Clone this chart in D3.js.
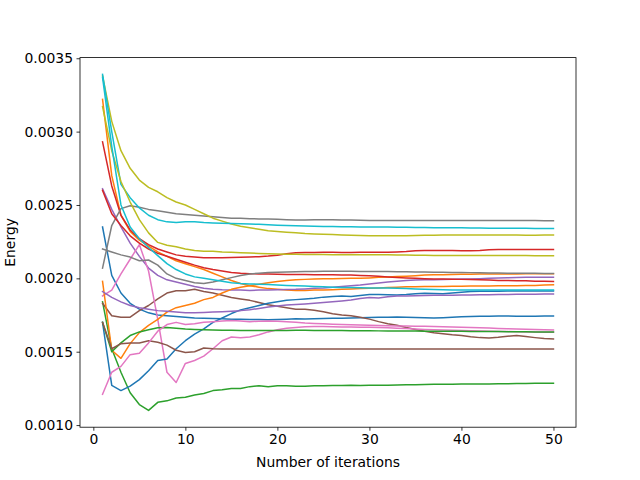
<!DOCTYPE html>
<html>
<head>
<meta charset="utf-8">
<script src="https://cdn.jsdelivr.net/npm/d3@7"></script>
<style>
  body { margin: 0; background: #fff; }
  text { font-family: "DejaVu Sans", sans-serif; }
</style>
</head>
<body>
<div id="chart"></div>
<script>
// energy per iteration, in units of 1e-3
var iterations = d3.range(1, 51);

var blueA = [2.35, 2.02, 1.90, 1.83, 1.79, 1.765, 1.75, 1.745, 1.74, 1.735,
  1.73, 1.728, 1.727, 1.725, 1.722, 1.722, 1.72, 1.72, 1.718, 1.72,
  1.722, 1.725, 1.723, 1.725, 1.727, 1.728, 1.728, 1.73, 1.732, 1.733,
  1.735, 1.735, 1.736, 1.735, 1.733, 1.732, 1.73, 1.732, 1.735, 1.738,
  1.74, 1.742, 1.742, 1.743, 1.743, 1.742, 1.742, 1.742, 1.743, 1.743];
var orangeA = [3.22, 2.70, 2.43, 2.32, 2.26, 2.22, 2.18, 2.15, 2.12, 2.10,
  2.08, 2.06, 2.035, 2.01, 1.985, 1.965, 1.95, 1.94, 1.93, 1.925,
  1.92, 1.918, 1.918, 1.92, 1.92, 1.922, 1.925, 1.928, 1.93, 1.932,
  1.935, 1.938, 1.94, 1.942, 1.943, 1.944, 1.945, 1.945, 1.946, 1.946,
  1.947, 1.948, 1.948, 1.949, 1.95, 1.95, 1.951, 1.952, 1.954, 1.956];
var greenA = [1.84, 1.52, 1.36, 1.22, 1.14, 1.10, 1.155, 1.165, 1.185, 1.19,
  1.205, 1.215, 1.235, 1.24, 1.25, 1.25, 1.262, 1.268, 1.262, 1.268,
  1.268, 1.264, 1.265, 1.268, 1.268, 1.27, 1.27, 1.272, 1.27, 1.272,
  1.272, 1.272, 1.273, 1.274, 1.275, 1.276, 1.278, 1.278, 1.279, 1.28,
  1.28, 1.28, 1.28, 1.281, 1.282, 1.283, 1.284, 1.285, 1.285, 1.285];
var redA = [2.93, 2.63, 2.43, 2.33, 2.27, 2.23, 2.20, 2.18, 2.16, 2.15,
  2.145, 2.14, 2.14, 2.14, 2.142, 2.143, 2.145, 2.148, 2.152, 2.158,
  2.168, 2.175, 2.177, 2.177, 2.178, 2.178, 2.177, 2.177, 2.178, 2.178,
  2.178, 2.178, 2.18, 2.183, 2.188, 2.19, 2.19, 2.19, 2.19, 2.188,
  2.188, 2.19, 2.195, 2.197, 2.197, 2.197, 2.197, 2.197, 2.197, 2.197];
var purpleA = [2.61, 2.47, 2.35, 2.24, 2.15, 2.07, 2.02, 1.99, 1.975, 1.96,
  1.945, 1.932, 1.926, 1.922, 1.92, 1.92, 1.918, 1.92, 1.92, 1.922,
  1.924, 1.925, 1.928, 1.932, 1.935, 1.94, 1.945, 1.95, 1.955, 1.962,
  1.968, 1.975, 1.98, 1.985, 1.988, 1.99, 1.99, 1.992, 1.994, 1.995,
  1.996, 1.998, 2.0, 2.002, 2.004, 2.006, 2.008, 2.008, 2.008, 2.008];
var brownA = [1.83, 1.745, 1.735, 1.735, 1.78, 1.815, 1.86, 1.90, 1.915, 1.915,
  1.925, 1.91, 1.90, 1.885, 1.87, 1.86, 1.85, 1.835, 1.82, 1.81,
  1.80, 1.79, 1.79, 1.782, 1.772, 1.758, 1.75, 1.745, 1.735, 1.722,
  1.705, 1.69, 1.68, 1.665, 1.652, 1.64, 1.63, 1.622, 1.615, 1.61,
  1.602, 1.596, 1.594, 1.598, 1.605, 1.61, 1.603, 1.596, 1.59, 1.587];
var pinkB = [1.88, 1.92, 2.03, 2.13, 2.23, 2.05, 1.72, 1.36, 1.29, 1.42,
  1.44, 1.47, 1.52, 1.575, 1.60, 1.595, 1.60, 1.615, 1.635, 1.65,
  1.66, 1.665, 1.67, 1.672, 1.672, 1.67, 1.668, 1.668, 1.667, 1.666,
  1.665, 1.663, 1.66, 1.658, 1.655, 1.652, 1.65, 1.648, 1.646, 1.645,
  1.643, 1.642, 1.64, 1.638, 1.637, 1.636, 1.635, 1.634, 1.633, 1.632];
var grayA = [2.07, 2.36, 2.475, 2.495, 2.485, 2.47, 2.46, 2.45, 2.44, 2.435,
  2.43, 2.425, 2.42, 2.415, 2.41, 2.41, 2.407, 2.405, 2.404, 2.402,
  2.40, 2.398, 2.398, 2.40, 2.40, 2.40, 2.398, 2.397, 2.396, 2.395,
  2.395, 2.395, 2.395, 2.394, 2.394, 2.394, 2.394, 2.394, 2.394, 2.394,
  2.394, 2.394, 2.395, 2.395, 2.395, 2.395, 2.394, 2.394, 2.393, 2.393];
var oliveA = [3.38, 3.07, 2.87, 2.75, 2.67, 2.62, 2.59, 2.55, 2.52, 2.50,
  2.47, 2.44, 2.41, 2.39, 2.37, 2.355, 2.345, 2.335, 2.325, 2.32,
  2.315, 2.31, 2.305, 2.302, 2.30, 2.298, 2.296, 2.294, 2.292, 2.29,
  2.29, 2.29, 2.29, 2.29, 2.292, 2.294, 2.294, 2.295, 2.296, 2.296,
  2.296, 2.296, 2.296, 2.296, 2.296, 2.295, 2.294, 2.294, 2.295, 2.295];
var cyanA = [3.39, 3.00, 2.64, 2.55, 2.48, 2.43, 2.40, 2.385, 2.38, 2.385,
  2.385, 2.38, 2.378, 2.376, 2.374, 2.372, 2.37, 2.368, 2.365, 2.362,
  2.36, 2.358, 2.356, 2.355, 2.354, 2.353, 2.352, 2.351, 2.35, 2.35,
  2.35, 2.35, 2.349, 2.348, 2.347, 2.346, 2.345, 2.345, 2.344, 2.344,
  2.343, 2.343, 2.342, 2.342, 2.341, 2.341, 2.341, 2.34, 2.34, 2.34];

var blueB = [1.70, 1.27, 1.235, 1.265, 1.31, 1.37, 1.44, 1.45, 1.52, 1.575,
  1.62, 1.655, 1.70, 1.73, 1.76, 1.785, 1.80, 1.815, 1.83, 1.84,
  1.85, 1.855, 1.86, 1.865, 1.872, 1.876, 1.88, 1.877, 1.883, 1.89,
  1.89, 1.888, 1.887, 1.89, 1.895, 1.898, 1.896, 1.895, 1.90, 1.905,
  1.91, 1.912, 1.912, 1.912, 1.913, 1.913, 1.913, 1.913, 1.913, 1.913];
var orangeB = [1.98, 1.51, 1.455, 1.555, 1.63, 1.68, 1.72, 1.77, 1.80, 1.815,
  1.83, 1.855, 1.87, 1.90, 1.925, 1.94, 1.95, 1.96, 1.97, 1.978,
  1.985, 1.99, 1.993, 1.996, 1.998, 1.998, 1.999, 2.0, 2.0, 2.003,
  2.007, 2.01, 2.012, 2.015, 2.018, 2.022, 2.025, 2.025, 2.026, 2.028,
  2.028, 2.029, 2.029, 2.03, 2.03, 2.03, 2.031, 2.031, 2.031, 2.031];
var greenB = [1.70, 1.50, 1.56, 1.61, 1.635, 1.65, 1.663, 1.665, 1.66, 1.655,
  1.652, 1.65, 1.648, 1.647, 1.646, 1.645, 1.645, 1.644, 1.644, 1.645,
  1.645, 1.646, 1.646, 1.645, 1.645, 1.644, 1.644, 1.643, 1.643, 1.643,
  1.642, 1.642, 1.642, 1.641, 1.641, 1.64, 1.64, 1.64, 1.639, 1.639,
  1.638, 1.638, 1.637, 1.637, 1.636, 1.636, 1.636, 1.635, 1.635, 1.635];
var redB = [2.60, 2.44, 2.36, 2.29, 2.24, 2.20, 2.17, 2.15, 2.13, 2.11,
  2.09, 2.072, 2.06, 2.05, 2.04, 2.035, 2.032, 2.03, 2.03, 2.028,
  2.027, 2.027, 2.026, 2.025, 2.025, 2.024, 2.023, 2.022, 2.02, 2.018,
  2.014, 2.01, 2.006, 2.003, 2.0, 1.998, 1.996, 1.995, 1.994, 1.993,
  1.992, 1.99, 1.988, 1.986, 1.985, 1.984, 1.983, 1.981, 1.98, 1.979];
var purpleB = [1.91, 1.87, 1.84, 1.815, 1.80, 1.79, 1.78, 1.775, 1.77, 1.765,
  1.765, 1.768, 1.77, 1.773, 1.776, 1.78, 1.786, 1.795, 1.805, 1.812,
  1.818, 1.822, 1.826, 1.83, 1.835, 1.84, 1.846, 1.852, 1.862, 1.87,
  1.866, 1.874, 1.879, 1.88, 1.882, 1.883, 1.884, 1.885, 1.885, 1.886,
  1.887, 1.888, 1.889, 1.89, 1.89, 1.891, 1.892, 1.892, 1.893, 1.893];
var brownB = [1.70, 1.52, 1.555, 1.56, 1.56, 1.575, 1.565, 1.545, 1.51, 1.495,
  1.50, 1.525, 1.52, 1.518, 1.518, 1.518, 1.518, 1.518, 1.518, 1.518,
  1.518, 1.518, 1.518, 1.518, 1.518, 1.518, 1.518, 1.518, 1.518, 1.518,
  1.518, 1.518, 1.518, 1.518, 1.518, 1.518, 1.518, 1.518, 1.518, 1.518,
  1.518, 1.518, 1.518, 1.518, 1.518, 1.518, 1.518, 1.518, 1.518, 1.518];
var pinkA = [1.21, 1.36, 1.40, 1.48, 1.49, 1.56, 1.64, 1.685, 1.70, 1.685,
  1.69, 1.70, 1.705, 1.71, 1.712, 1.71, 1.705, 1.708, 1.71, 1.708,
  1.705, 1.70, 1.695, 1.692, 1.69, 1.688, 1.686, 1.684, 1.682, 1.68,
  1.678, 1.677, 1.676, 1.675, 1.674, 1.673, 1.672, 1.67, 1.668, 1.666,
  1.665, 1.663, 1.661, 1.659, 1.657, 1.655, 1.653, 1.651, 1.65, 1.648];
var grayB = [2.20, 2.18, 2.16, 2.145, 2.12, 2.125, 2.09, 2.03, 2.00, 1.985,
  1.97, 1.965, 1.975, 1.99, 2.005, 2.02, 2.03, 2.035, 2.04, 2.042,
  2.044, 2.045, 2.046, 2.047, 2.048, 2.048, 2.048, 2.048, 2.047, 2.047,
  2.046, 2.046, 2.045, 2.045, 2.044, 2.043, 2.042, 2.041, 2.04, 2.04,
  2.039, 2.038, 2.037, 2.036, 2.035, 2.035, 2.034, 2.034, 2.033, 2.033];
var oliveB = [3.17, 2.87, 2.66, 2.52, 2.40, 2.31, 2.245, 2.225, 2.215, 2.20,
  2.19, 2.185, 2.185, 2.18, 2.178, 2.175, 2.172, 2.17, 2.168, 2.166,
  2.165, 2.164, 2.163, 2.162, 2.162, 2.161, 2.161, 2.16, 2.16, 2.16,
  2.16, 2.16, 2.159, 2.159, 2.158, 2.157, 2.156, 2.156, 2.155, 2.155,
  2.155, 2.155, 2.155, 2.155, 2.155, 2.155, 2.155, 2.154, 2.154, 2.154];
var cyanB = [3.37, 2.90, 2.50, 2.35, 2.27, 2.21, 2.155, 2.10, 2.06, 2.03,
  2.01, 2.0, 1.99, 1.98, 1.97, 1.965, 1.962, 1.96, 1.958, 1.955,
  1.952, 1.95, 1.948, 1.945, 1.942, 1.94, 1.938, 1.937, 1.936, 1.935,
  1.935, 1.934, 1.932, 1.93, 1.928, 1.926, 1.924, 1.922, 1.921, 1.92,
  1.92, 1.92, 1.92, 1.92, 1.92, 1.92, 1.92, 1.92, 1.92, 1.92];

var xTicks = [0, 10, 20, 30, 40, 50];
var yTicks = [0.0010, 0.0015, 0.0020, 0.0025, 0.0030, 0.0035];

// two passes through the default matplotlib colour cycle
var runs = [blueA, orangeA, greenA, redA, purpleA, brownA, pinkB, grayA, oliveA, cyanA,
  blueB, orangeB, greenB, redB, purpleB, brownB, pinkA, grayB, oliveB, cyanB];
var palette = ["#1f77b4", "#ff7f0e", "#2ca02c", "#d62728", "#9467bd",
  "#8c564b", "#e377c2", "#7f7f7f", "#bcbd22", "#17becf"];

var svgWidth = 640;
var svgHeight = 480;
var margin = { top: 57.6, right: 64, bottom: 52.8, left: 80 };
var width = svgWidth - margin.left - margin.right;
var height = svgHeight - margin.top - margin.bottom;

var svg = d3.select("#chart")
  .append("svg")
  .attr("width", svgWidth)
  .attr("height", svgHeight)
  .style("background", "#fff");

var chartGroup = svg.append("g")
  .attr("transform", `translate(${margin.left}, ${margin.top})`);

// energies in real units
var series = runs.map(function(run) {
  return run.map(function(v, i) { return { it: iterations[i], e: v * 1e-3 }; });
});

var allE = [].concat.apply([], series).map(d => d.e);
var xPad = (d3.max(iterations) - d3.min(iterations)) * 0.05;
var yPad = (d3.max(allE) - d3.min(allE)) * 0.05;

var xScale = d3.scaleLinear()
  .domain([d3.min(iterations) - xPad, d3.max(iterations) + xPad])
  .range([0, width]);

var yScale = d3.scaleLinear()
  .domain([d3.min(allE) - yPad, d3.max(allE) + yPad])
  .range([height, 0]);

var xAxis = d3.axisBottom(xScale)
  .tickValues(xTicks)
  .tickSize(3.5)
  .tickPadding(3.5)
  .tickSizeOuter(0);

var yAxis = d3.axisLeft(yScale)
  .tickValues(yTicks)
  .tickFormat(d3.format(".4f"))
  .tickSize(3.5)
  .tickPadding(3.5)
  .tickSizeOuter(0);

var line = d3.line()
  .x(d => xScale(d.it))
  .y(d => yScale(d.e));

chartGroup.selectAll(".run")
  .data(series)
  .enter()
  .append("path")
  .attr("class", "run")
  .attr("fill", "none")
  .attr("stroke", (d, i) => palette[i % palette.length])
  .attr("stroke-width", 1.5)
  .attr("stroke-linejoin", "round")
  .attr("stroke-linecap", "square")
  .attr("d", line);

var xg = chartGroup.append("g")
  .attr("transform", `translate(0, ${height})`)
  .call(xAxis);

var yg = chartGroup.append("g")
  .call(yAxis);

[xg, yg].forEach(function(g) {
  g.select(".domain").remove();
  g.selectAll(".tick line").attr("stroke", "#000").attr("stroke-width", 0.8);
  g.selectAll(".tick text")
    .attr("fill", "#000")
    .style("font-family", "'DejaVu Sans', sans-serif")
    .style("font-size", "13.9px");
});

// frame
chartGroup.append("rect")
  .attr("width", width)
  .attr("height", height)
  .attr("fill", "none")
  .attr("stroke", "#000")
  .attr("stroke-width", 0.8);

// axis labels
svg.append("text")
  .attr("x", margin.left + width / 2)
  .attr("y", 467)
  .attr("text-anchor", "middle")
  .style("font-size", "13.9px")
  .text("Number of iterations");

svg.append("text")
  .attr("transform", `translate(14.5, ${margin.top + height / 2}) rotate(-90)`)
  .attr("text-anchor", "middle")
  .style("font-size", "13.9px")
  .text("Energy");
</script>
</body>
</html>
